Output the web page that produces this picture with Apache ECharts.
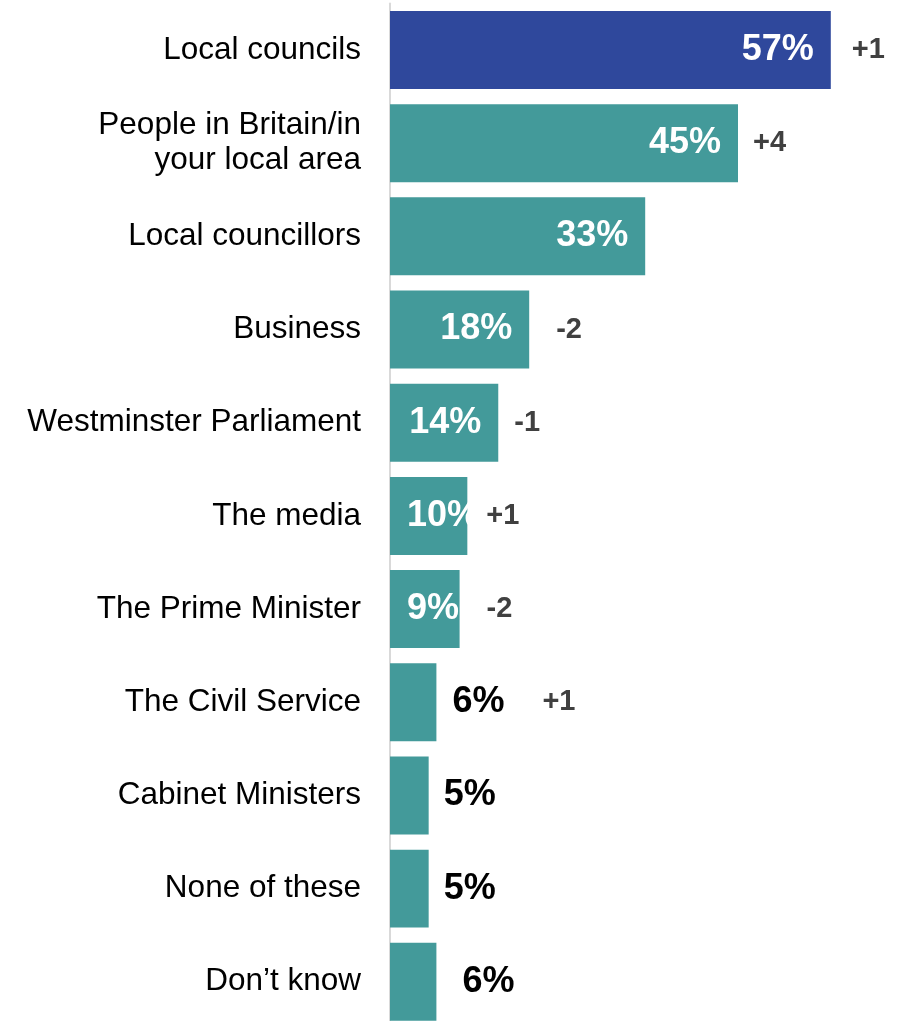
<!DOCTYPE html>
<html>
<head>
<meta charset="utf-8">
<script src="https://cdn.jsdelivr.net/npm/echarts@6/dist/echarts.min.js"></script>
<style>
html,body{margin:0;padding:0;background:#fff;overflow:hidden;}
#chart{width:910px;height:1030px;}
</style>
</head>
<body>
<div id="chart"></div>
<script>
const categories = ["Local councils", "People in Britain/in\nyour local area", "Local councillors", "Business", "Westminster Parliament", "The media", "The Prime Minister", "The Civil Service", "Cabinet Ministers", "None of these", "Don\u2019t know"];
const values = [57, 45, 33, 18, 14, 10, 9, 6, 5, 5, 6];
const changes = ["+1", "+4", "", "-2", "-1", "+1", "-2", "+1", "", "", ""];

// styling (not data)
const barColors = ["#2F489C", "#439A9A", "#439A9A", "#439A9A", "#439A9A", "#439A9A", "#439A9A", "#439A9A", "#439A9A", "#439A9A", "#439A9A"];
const labelPlace = ["in", "in", "in", "in", "in", "left", "left", "out", "out", "out", "out"];
const labelDist = [17, 17, 17, 17, 17, 17, 17, 16, 15, 15, 26];
const changeDist = [21, 15, 0, 27, 16, 19, 27, 106, 0, 0, 0];

const FONT = '"Liberation Sans", Arial, sans-serif';

const mainData = values.map((v, i) => {
  const lab = {};
  if (labelPlace[i] === 'in') { lab.position = 'insideRight'; lab.color = '#fff'; }
  else if (labelPlace[i] === 'left') { lab.position = 'insideLeft'; lab.color = '#fff'; }
  else { lab.position = 'right'; lab.color = '#000'; }
  lab.distance = labelDist[i];
  return { value: v, itemStyle: { color: barColors[i] }, label: lab };
});

const changeData = values.map((v, i) => ({
  value: v,
  label: { distance: changeDist[i], formatter: changes[i] }
}));

const chart = echarts.init(document.getElementById('chart'), null, { renderer: 'canvas' });
chart.setOption({
  animation: false,
  backgroundColor: '#fff',
  grid: { left: 390, top: 3.4, width: 464, height: 1025, containLabel: false },
  xAxis: { type: 'value', min: 0, max: 60, show: false },
  yAxis: {
    type: 'category', data: categories, inverse: true,
    axisTick: { show: false },
    axisLine: { show: true, lineStyle: { color: '#d9d9d9', width: 2 } },
    axisLabel: { fontFamily: FONT, fontSize: 31.5, color: '#000', margin: 29, lineHeight: 35, align: 'right' },
    splitLine: { show: false }
  },
  series: [
    {
      type: 'bar', data: mainData, barCategoryGap: '16.3%', z: 2,
      label: { show: true, fontFamily: FONT, fontSize: 36, fontWeight: 'bold', formatter: '{c}%' }
    },
    {
      type: 'bar', data: changeData, barGap: '-100%', barCategoryGap: '16.3%', z: 3, silent: true,
      itemStyle: { color: 'rgba(0,0,0,0)' },
      label: { show: true, position: 'right', fontFamily: FONT, fontSize: 29, fontWeight: 'bold', color: '#404040' }
    }
  ]
});
</script>
</body>
</html>
